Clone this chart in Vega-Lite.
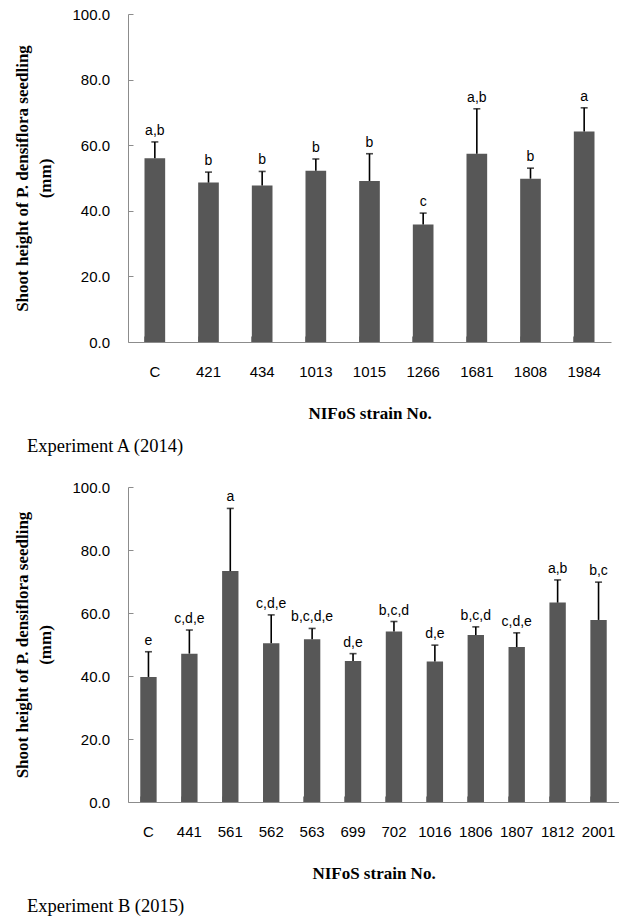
{
  "$schema": "https://vega.github.io/schema/vega-lite/v6.json",
  "padding": {"left": 13, "top": 7, "right": 0, "bottom": 0},
  "spacing": 24,
  "datasets": {
    "A": [
      {"strain": "C", "mean": 56.0, "upper": 61.0, "letter": "a,b"},
      {"strain": "421", "mean": 48.6, "upper": 51.8, "letter": "b"},
      {"strain": "434", "mean": 47.7, "upper": 52.0, "letter": "b"},
      {"strain": "1013", "mean": 52.2, "upper": 55.8, "letter": "b"},
      {"strain": "1015", "mean": 49.1, "upper": 57.4, "letter": "b"},
      {"strain": "1266", "mean": 35.8, "upper": 39.3, "letter": "c"},
      {"strain": "1681", "mean": 57.4, "upper": 71.1, "letter": "a,b"},
      {"strain": "1808", "mean": 49.8, "upper": 53.0, "letter": "b"},
      {"strain": "1984", "mean": 64.2, "upper": 71.4, "letter": "a"}
    ],
    "B": [
      {"strain": "C", "mean": 39.7, "upper": 47.7, "letter": "e"},
      {"strain": "441", "mean": 47.1, "upper": 54.6, "letter": "c,d,e"},
      {"strain": "561", "mean": 73.3, "upper": 93.2, "letter": "a"},
      {"strain": "562", "mean": 50.4, "upper": 59.4, "letter": "c,d,e"},
      {"strain": "563", "mean": 51.7, "upper": 55.1, "letter": "b,c,d,e"},
      {"strain": "699", "mean": 44.8, "upper": 47.1, "letter": "d,e"},
      {"strain": "702", "mean": 54.1, "upper": 57.3, "letter": "b,c,d"},
      {"strain": "1016", "mean": 44.6, "upper": 49.8, "letter": "d,e"},
      {"strain": "1806", "mean": 53.0, "upper": 55.6, "letter": "b,c,d"},
      {"strain": "1807", "mean": 49.2, "upper": 53.7, "letter": "c,d,e"},
      {"strain": "1812", "mean": 63.3, "upper": 70.5, "letter": "a,b"},
      {"strain": "2001", "mean": 57.8, "upper": 69.8, "letter": "b,c"}
    ]
  },
  "vconcat": [
    {
      "data": {"name": "A"},
      "width": 483,
      "height": 328,
      "title": {"text": "Experiment A (2014)", "orient": "bottom", "anchor": "start", "font": "Liberation Serif", "fontSize": 18.5, "fontWeight": "normal", "color": "#000000", "offset": 16, "dx": 13},
      "encoding": {
        "x": {"field": "strain", "type": "ordinal", "sort": null,
          "scale": {"paddingInner": 0.615, "paddingOuter": 0.3075},
          "axis": {"title": "NIFoS strain No.", "labelAngle": 0, "bandPosition": 0, "tickSize": -6, "labelPadding": 28, "titlePadding": 26,
            "labelFont": "Liberation Sans", "labelFontSize": 15, "labelColor": "#000000",
            "titleFont": "Liberation Serif", "titleFontSize": 17, "titleFontWeight": "bold", "titleColor": "#000000",
            "domainColor": "#8c8c8c", "tickColor": "#8c8c8c"}}
      },
      "layer": [
        {"mark": {"type": "bar", "color": "#575757"},
          "encoding": {"y": {"field": "mean", "type": "quantitative", "scale": {"domain": [0, 100]},
            "axis": {"values": [0, 20, 40, 60, 80, 100], "format": ".1f", "tickSize": -5, "labelPadding": 23.5, "titlePadding": 17,
              "title": ["Shoot height of P. densiflora seedling", "(mm)"],
              "labelFont": "Liberation Sans", "labelFontSize": 15, "labelColor": "#000000",
              "titleFont": "Liberation Serif", "titleFontSize": 17, "titleFontWeight": "bold", "titleColor": "#000000", "titleLineHeight": 23,
              "domainColor": "#8c8c8c", "tickColor": "#8c8c8c"}}}},
        {"mark": {"type": "rule", "color": "#000000", "strokeWidth": 1.6},
          "encoding": {"y": {"field": "mean", "type": "quantitative"}, "y2": {"field": "upper"}}},
        {"mark": {"type": "tick", "orient": "horizontal", "color": "#000000", "size": 7, "thickness": 1.6},
          "encoding": {"y": {"field": "upper", "type": "quantitative"}}},
        {"mark": {"type": "text", "baseline": "bottom", "dy": -4, "font": "Liberation Sans", "fontSize": 14, "color": "#000000"},
          "encoding": {"y": {"field": "upper", "type": "quantitative"}, "text": {"field": "letter"}}}
      ]
    },
    {
      "data": {"name": "B"},
      "width": 491,
      "height": 315,
      "title": {"text": "Experiment B (2015)", "orient": "bottom", "anchor": "start", "font": "Liberation Serif", "fontSize": 18.5, "fontWeight": "normal", "color": "#000000", "offset": 16, "dx": 13},
      "encoding": {
        "x": {"field": "strain", "type": "ordinal", "sort": null,
          "scale": {"paddingInner": 0.6, "paddingOuter": 0.3},
          "axis": {"title": "NIFoS strain No.", "labelAngle": 0, "bandPosition": 0, "tickSize": -6, "labelPadding": 28, "titlePadding": 26,
            "labelFont": "Liberation Sans", "labelFontSize": 15, "labelColor": "#000000",
            "titleFont": "Liberation Serif", "titleFontSize": 17, "titleFontWeight": "bold", "titleColor": "#000000",
            "domainColor": "#8c8c8c", "tickColor": "#8c8c8c"}}
      },
      "layer": [
        {"mark": {"type": "bar", "color": "#575757"},
          "encoding": {"y": {"field": "mean", "type": "quantitative", "scale": {"domain": [0, 100]},
            "axis": {"values": [0, 20, 40, 60, 80, 100], "format": ".1f", "tickSize": -5, "labelPadding": 23.5, "titlePadding": 17,
              "title": ["Shoot height of P. densiflora seedling", "(mm)"],
              "labelFont": "Liberation Sans", "labelFontSize": 15, "labelColor": "#000000",
              "titleFont": "Liberation Serif", "titleFontSize": 17, "titleFontWeight": "bold", "titleColor": "#000000", "titleLineHeight": 23,
              "domainColor": "#8c8c8c", "tickColor": "#8c8c8c"}}}},
        {"mark": {"type": "rule", "color": "#000000", "strokeWidth": 1.6},
          "encoding": {"y": {"field": "mean", "type": "quantitative"}, "y2": {"field": "upper"}}},
        {"mark": {"type": "tick", "orient": "horizontal", "color": "#000000", "size": 7, "thickness": 1.6},
          "encoding": {"y": {"field": "upper", "type": "quantitative"}}},
        {"mark": {"type": "text", "baseline": "bottom", "dy": -4, "font": "Liberation Sans", "fontSize": 14, "color": "#000000"},
          "encoding": {"y": {"field": "upper", "type": "quantitative"}, "text": {"field": "letter"}}}
      ]
    }
  ],
  "config": {"view": {"stroke": null}, "axis": {"grid": false}}
}
